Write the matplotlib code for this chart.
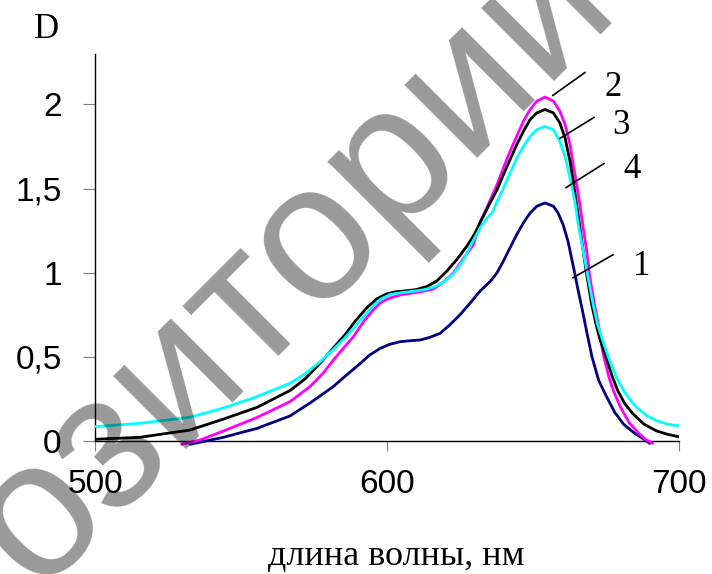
import matplotlib
matplotlib.use("Agg")
import matplotlib.pyplot as plt

# ---- data ----
# curve 1 (navy)
x1 = [532.5, 544, 555.5, 566.8, 574, 581.6, 586, 590.8, 594, 597.6, 601, 604.5, 608, 611.3, 614.5, 618.2,
      621.5, 625, 628.5, 631.8, 635.3, 637.6, 639.8, 642.1, 644.4, 646.7, 649, 651.3, 654.1, 657, 658.6,
      660.3, 662, 663.2, 664.4, 665.4, 667, 668.5, 670.2, 672.5, 675, 678, 681, 684.5, 688, 690]
y1 = [-0.02, 0.022, 0.075, 0.149, 0.23, 0.323, 0.39, 0.46, 0.51, 0.55, 0.575, 0.59, 0.596, 0.60, 0.615, 0.64,
      0.69, 0.75, 0.82, 0.89, 0.948, 0.998, 1.067, 1.147, 1.226, 1.296, 1.355, 1.395, 1.415, 1.395, 1.355,
      1.286, 1.186, 1.087, 0.988, 0.90, 0.77, 0.64, 0.50, 0.36, 0.27, 0.17, 0.10, 0.05, 0.01, -0.014]

# curve 2 (magenta)
x2 = [529.7, 536, 543.8, 555.5, 566.8, 573.6, 578, 581.6, 585, 588.5, 592, 595.3, 598, 601, 605, 609,
      612.5, 615.9, 619, 622.7, 626, 629.6, 631.8, 633.5, 635.3, 637.6, 639.8, 642.1, 644.4, 646.7, 649,
      651.3, 654.1, 657, 659.2, 661, 662.7, 663.8, 665, 666.1, 667.2, 668.4, 669.5, 671, 672.5, 674, 676,
      677.5, 680, 683, 686, 688.5, 691]
y2 = [-0.02, 0.006, 0.058, 0.14, 0.234, 0.323, 0.40, 0.48, 0.55, 0.62, 0.71, 0.78, 0.825, 0.85, 0.87, 0.88,
      0.89, 0.903, 0.94, 0.998, 1.08, 1.167, 1.296, 1.36, 1.43, 1.52, 1.62, 1.72, 1.81, 1.90, 1.97,
      2.02, 2.044, 2.02, 1.96, 1.88, 1.76, 1.64, 1.52, 1.40, 1.266, 1.127, 0.968, 0.82, 0.68, 0.52, 0.38,
      0.30, 0.20, 0.107, 0.05, 0.01, -0.014]

# curve 3 (black)
x3 = [500, 515.4, 532.5, 543.8, 555.5, 566.8, 572, 577, 582, 586, 589, 593, 596.5, 600, 603, 606.7, 610,
      613.6, 617, 620.4, 624, 627.3, 630, 632.5, 635.3, 637.6, 639.8, 642.1, 644.4, 646.7, 649, 651.3,
      654.1, 657, 659.2, 661, 662.7, 663.8, 665, 666.1, 667.2, 668.4, 670, 671.5, 673, 675, 677, 679,
      681.5, 684.3, 688, 692.3, 696, 700]
y3 = [0.01, 0.022, 0.065, 0.129, 0.2, 0.30, 0.37, 0.46, 0.56, 0.64, 0.71, 0.79, 0.845, 0.875, 0.887, 0.893,
      0.90, 0.918, 0.95, 1.008, 1.08, 1.157, 1.23, 1.32, 1.415, 1.49, 1.58, 1.67, 1.76, 1.84, 1.91, 1.95,
      1.97, 1.95, 1.89, 1.80, 1.66, 1.54, 1.40, 1.266, 1.127, 0.988, 0.82, 0.70, 0.60, 0.50, 0.39, 0.30,
      0.22, 0.16, 0.10, 0.06, 0.04, 0.025]

# curve 4 (cyan)
x4 = [500, 515.4, 532.5, 543.8, 555.5, 566.8, 572, 577, 582, 586, 589, 592, 595, 598, 601, 605, 609, 613,
      616, 619, 622.6, 626, 629.5, 632, 634, 636, 637.6, 639.8, 642.1, 644.4, 646.7, 649, 651.3, 654.1,
      657, 659.2, 661, 662.7, 664.4, 665.5, 667.2, 668.9, 670.5, 672, 674, 676, 678.5, 681, 683.5, 685.5,
      689, 692.5, 696, 700]
y4 = [0.085, 0.105, 0.141, 0.195, 0.264, 0.343, 0.40, 0.47, 0.55, 0.62, 0.68, 0.74, 0.80, 0.845, 0.87,
      0.882, 0.89, 0.90, 0.915, 0.94, 0.99, 1.07, 1.19, 1.27, 1.32, 1.355, 1.42, 1.50, 1.59, 1.68, 1.75,
      1.81, 1.85, 1.87, 1.85, 1.78, 1.69, 1.56, 1.42, 1.286, 1.127, 0.968, 0.82, 0.70, 0.59, 0.49, 0.38,
      0.30, 0.24, 0.20, 0.15, 0.12, 0.10, 0.09]

series_colors = ["#000080", "#ff00ff", "#000000", "#00ffff"]
curve_labels = ["1", "2", "3", "4"]

xticks = [500, 600, 700]
xtick_labels = ["500", "600", "700"]
yticks = [0, 0.5, 1, 1.5, 2]
ytick_labels = ["0", "0,5", "1", "1,5", "2"]

# leader lines for curve numbers: (x0, y0, x1, y1) and label positions
leader_lines = {
    "1": (663.7, 0.970, 677.4, 1.107),
    "2": (656.8, 2.054, 667.8, 2.19),
    "3": (659.2, 1.798, 670.9, 1.923),
    "4": (661.3, 1.506, 674.3, 1.649),
}
label_pos = {
    "1": (687.3, 1.036),
    "2": (677.4, 2.10),
    "3": (680.1, 1.875),
    "4": (683.9, 1.613),
}

W, H = 712, 574
fig = plt.figure(figsize=(W / 100, H / 100), dpi=100)
ax = fig.add_axes([95 / W, 1 - 449.4 / H, (679 - 95) / W, (449.4 - 54) / H])

for xs, ys, c in zip([x1, x2, x3, x4], [y1, y2, y3, y4], series_colors):
    ax.plot(xs, ys, color=c, lw=2.0, solid_joinstyle="round", solid_capstyle="round", zorder=3)

for k, (a, b, c, d) in leader_lines.items():
    ax.plot([a, c], [b, d], color="black", lw=1.2, zorder=4)
    lx, ly = label_pos[k]
    ax.text(lx, ly, k, fontsize=25, family="Liberation Serif", ha="center", va="center", zorder=4)

ax.set_xlim(500, 700)
ax.set_ylim(-0.05, 2.3)
ax.spines["top"].set_visible(False)
ax.spines["right"].set_visible(False)
ax.spines["bottom"].set_position(("data", 0))
ax.spines["left"].set_bounds(0, 2.3)
for s in ["bottom", "left"]:
    ax.spines[s].set_linewidth(1.0)
    ax.spines[s].set_color("black")

ax.set_xticks(xticks)
ax.set_xticklabels(xtick_labels)
ax.set_yticks(yticks)
ax.set_yticklabels(ytick_labels)
ax.tick_params(axis="x", direction="out", length=7, width=0.8, color="#808080",
               labelsize=24, pad=13)
ax.tick_params(axis="y", direction="out", length=9, width=0.8, color="#808080",
               labelsize=24, pad=15)
for lab in ax.get_xticklabels() + ax.get_yticklabels():
    lab.set_family("Liberation Sans")

fig.text(46 / W, 1 - 30 / H, "D", fontsize=25, family="Liberation Serif", ha="center", va="center")
fig.text(396 / W, 1 - 557 / H, "длина волны, нм", fontsize=26, family="Liberation Serif",
         ha="center", va="center")

# watermark
fig.text(170 / W, 1 - 375 / H, "Репозиторий", fontsize=140, family="Liberation Sans",
         color="black", alpha=0.4, rotation=45, rotation_mode="anchor",
         ha="center", va="center", zorder=10)

fig.savefig("out.png", dpi=100)
